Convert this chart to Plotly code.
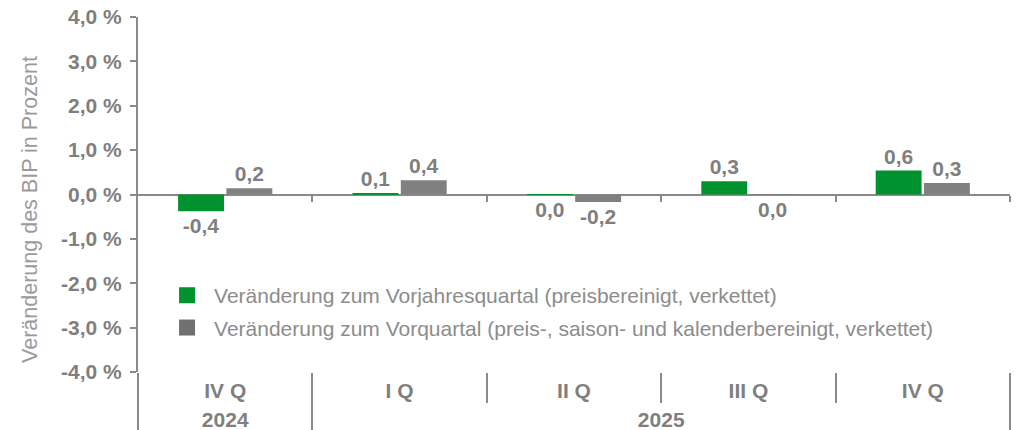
import plotly.graph_objects as go

quarters = ["IV Q", "I Q", "II Q", "III Q", "IV Q"]
years = ["2024", "2025"]
year_pos = [0, 2.5]
yoy_values = [-0.38, 0.02, -0.01, 0.30, 0.54]
yoy_labels = ["-0,4", "0,1", "0,0", "0,3", "0,6"]
qoq_values = [0.14, 0.32, -0.17, -0.01, 0.26]
qoq_labels = ["0,2", "0,4", "-0,2", "0,0", "0,3"]
y_ticks = [4, 3, 2, 1, 0, -1, -2, -3, -4]
y_ticktext = ["4,0 %", "3,0 %", "2,0 %", "1,0 %", "0,0 %", "-1,0 %", "-2,0 %", "-3,0 %", "-4,0 %"]
name_yoy = "Veränderung zum Vorjahresquartal (preisbereinigt, verkettet)"
name_qoq = "Veränderung zum Vorquartal (preis-, saison- und kalenderbereinigt, verkettet)"
y_title = "Veränderung des BIP in Prozent"

GREEN = "#00922f"
GRAY = "#808080"
LINE = "#8a8a8a"
TXT = "#7f7f7f"
FONT = "Liberation Sans, Arial, sans-serif"
LBL = dict(family=FONT, size=21, color=TXT, weight="bold")

idx = list(range(len(quarters)))
boundaries = [i + 0.5 for i in idx]
xr = [-0.5, len(quarters) - 0.5]
eps = 1e-6

fig = go.Figure()
fig.add_trace(go.Bar(x=idx, y=yoy_values, text=yoy_labels, texttemplate="%{text}",
                     textposition="outside", marker=dict(color=GREEN, line=dict(width=0)),
                     textfont=LBL, constraintext="none", cliponaxis=False,
                     showlegend=False, name=name_yoy))
fig.add_trace(go.Bar(x=idx, y=qoq_values, text=qoq_labels, texttemplate="%{text}",
                     textposition="outside", marker=dict(color=GRAY, line=dict(width=0)),
                     textfont=LBL, constraintext="none", cliponaxis=False,
                     showlegend=False, name=name_qoq))
# legend entries
fig.add_trace(go.Scatter(x=[None], y=[None], mode="markers", name=name_yoy, legendgroup="a",
                         marker=dict(symbol="square", size=16, color=GREEN)))
fig.add_trace(go.Scatter(x=[None], y=[None], mode="markers", name=name_qoq, legendgroup="b",
                         marker=dict(symbol="square", size=16, color="#707070")))
# anchors for helper axes
for ax in ["x2", "x3", "x4"]:
    fig.add_trace(go.Scatter(x=[None], y=[None], xaxis=ax, yaxis="y", mode="markers",
                             showlegend=False, hoverinfo="skip"))

fig.update_layout(
    width=1016, height=430,
    margin=dict(l=138, r=6, t=17, b=58, autoexpand=False),
    plot_bgcolor="white", paper_bgcolor="white",
    barmode="group", bargap=0.446, bargroupgap=0.05,
    font=dict(family=FONT, color=TXT),
    showlegend=True,
    legend=dict(x=0.0253, y=0.273, xanchor="left", yanchor="top", itemwidth=44,
                font=dict(family=FONT, size=21, color="#8c8c8c"),
                bgcolor="rgba(0,0,0,0)", tracegroupgap=2),
    yaxis=dict(range=[-4, 4], tickvals=y_ticks, ticktext=y_ticktext, automargin=False,
               showline=True, linecolor=LINE, linewidth=2,
               ticks="outside", ticklen=6, tickwidth=2, tickcolor=LINE,
               showgrid=False, zeroline=True, zerolinecolor=LINE, zerolinewidth=2,
               tickfont=LBL, ticklabelstandoff=4),
    xaxis=dict(range=xr, showline=False, zeroline=False, showgrid=False, automargin=False,
               tickvals=[xr[0], boundaries[0], xr[1] - eps], ticks="outside", ticklen=58,
               tickwidth=2, tickcolor=LINE, showticklabels=False,
               minor=dict(tickvals=boundaries[1:4], ticks="outside", ticklen=30,
                          tickwidth=2, tickcolor=LINE)),
    xaxis2=dict(overlaying="x", anchor="y", range=xr, showline=False, zeroline=False,
                showgrid=False, tickvals=idx, ticktext=quarters, ticks="", automargin=False,
                tickfont=LBL, ticklabelstandoff=4),
    xaxis3=dict(overlaying="x", anchor="y", range=xr, showline=False, zeroline=False,
                showgrid=False, tickvals=year_pos, ticktext=years, ticks="", automargin=False,
                tickfont=LBL, ticklabelstandoff=33),
    xaxis4=dict(overlaying="x", anchor="free", position=0.5, range=xr, showline=False,
                zeroline=False, showgrid=False, tickvals=[b - eps for b in boundaries],
                ticks="outside", automargin=False,
                ticklen=6, tickwidth=2, tickcolor=LINE, showticklabels=False),
    annotations=[dict(text=y_title, xref="paper", yref="paper", x=-0.124, y=0.459,
                      xanchor="center", yanchor="middle",
                      textangle=-90, showarrow=False,
                      font=dict(family=FONT, size=21.5, color="#9a9a9a"))],
)

fig.write_html("out.html", config={"displayModeBar": False},
               post_script="document.body.style.margin='0';")
